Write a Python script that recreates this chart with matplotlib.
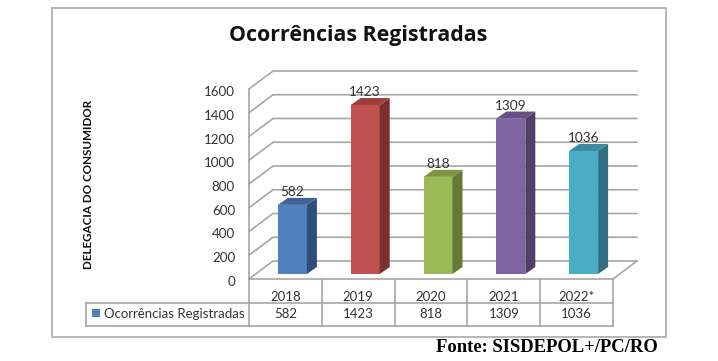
import numpy as np
import matplotlib
matplotlib.use("Agg")
import matplotlib.pyplot as plt
from matplotlib.transforms import ScaledTranslation

W, H = 718, 361

years = ["2018", "2019", "2020", "2021", "2022*"]
values = [582, 1423, 818, 1309, 1036]
front_cols = ["#4f81bd", "#c0504d", "#9bbb59", "#8064a2", "#4bacc6"]
side_cols = ["#2f4f7a", "#7a302e", "#647a36", "#523f6b", "#2f6f80"]
top_cols = ["#3c6496", "#9a3f3c", "#7c9646", "#664f82", "#3b8a9e"]
yticks = [0, 200, 400, 600, 800, 1000, 1200, 1400, 1600]

title = "Ocorrências Registradas"
ylabel = "DELEGACIA DO CONSUMIDOR"
source = "Fonte: SISDEPOL+/PC/RO"

GRID = "#a6a6a6"
TXT = "#333333"

plt.rcParams["font.family"] = ["Lato", "DejaVu Sans"]

fig = plt.figure(figsize=(W / 100, H / 100), dpi=100)


def px_rect(x0, y0, x1, y1):
    # pixel box, y measured from the top of the image
    return [x0 / W, 1 - y1 / H, (x1 - x0) / W, (y1 - y0) / H]


# overlay in image pixels for frame and table
bg = fig.add_axes([0, 0, 1, 1])
bg.set_xlim(0, W)
bg.set_ylim(H, 0)
bg.axis("off")

bg.plot([52, 666, 666, 52, 52], [8, 8, 337, 337, 8], color="#b0b0b0", lw=1.3)

bg.text(358, 36, title, ha="center", va="center", fontsize=15.4, fontweight="bold", color="#111111",
        family=["Open Sans", "DejaVu Sans"])
bg.text(88, 184, ylabel, rotation=90, ha="center", va="center", fontsize=8.4, fontweight="bold", color="#111111")
bg.text(547, 348, source, ha="center", va="center", fontsize=13.4, fontweight="bold", color="black",
        family="Liberation Serif")

# main plot, the axes box is the front plane of the 3d floor
ax = fig.add_axes(px_rect(249, 89, 613, 279))
ax.set_xlim(0, len(years))
ax.set_ylim(0, 1600)
ax.patch.set_alpha(0)
for s in ax.spines.values():
    s.set_visible(False)

xs = np.arange(len(years))
depth_x = 24 / (364 / 5)
depth_y = 18 / (190 / 1600)

# walls
for t in yticks:
    ax.plot([0, depth_x, 5 + depth_x], [t, t + depth_y, t + depth_y], color=GRID, lw=1.2, clip_on=False, zorder=1)
ax.plot([0, 0], [0, 1600], color=GRID, lw=1.2, clip_on=False, zorder=1)
ax.plot([0, 5, 5 + depth_x], [0, 0, depth_y], color=GRID, lw=1.2, clip_on=False, zorder=1)

# bars, pushed back onto the floor
bar_w = 29 / (364 / 5)
off_x = 7 / (364 / 5)
off_y = 5 / (190 / 1600)
cap_x = 10 / (364 / 5)
cap_y = 7 / (190 / 1600)
for i, v in enumerate(values):
    x0 = xs[i] + 0.5 + off_x - bar_w / 2
    x1 = x0 + bar_w
    y0 = off_y
    y1 = v + off_y
    ax.fill([x0, x1, x1, x0], [y0, y0, y1, y1], color=front_cols[i], lw=0, clip_on=False, zorder=3)
    ax.fill([x1, x1 + cap_x, x1 + cap_x, x1], [y0, y0 + cap_y, y1 + cap_y, y1], color=side_cols[i], lw=0, clip_on=False, zorder=3)
    ax.fill([x0, x1, x1 + cap_x, x0 + cap_x], [y1, y1, y1 + cap_y, y1 + cap_y], color=top_cols[i], lw=0, clip_on=False, zorder=3)
    ax.text((x0 + x1) / 2, y1 + cap_y, str(v), ha="center", va="bottom", fontsize=9.8, color=TXT, zorder=4)

ax.set_xticks([])
ax.set_yticks(yticks)
ax.tick_params(axis="y", length=0, pad=10, labelsize=9.6, labelcolor=TXT)
# labels sit a little lower than the tick in the original
shift = ScaledTranslation(0, -2 / 100, fig.dpi_scale_trans)
for lab in ax.get_yticklabels():
    lab.set_transform(lab.get_transform() + shift)

# data table under the axes
tbl_top, tbl_mid, tbl_bot = 279, 303, 326
tbl_left = 86
col_w = 364 / 5
bg.plot([249, 249], [tbl_top, tbl_bot], color=GRID, lw=1.2)
bg.plot([tbl_left, 613], [tbl_mid, tbl_mid], color=GRID, lw=1.2)
bg.plot([tbl_left, 613], [tbl_bot, tbl_bot], color=GRID, lw=1.2)
bg.plot([tbl_left, tbl_left], [tbl_mid, tbl_bot], color=GRID, lw=1.2)
for i in range(len(years)):
    x_r = 249 + col_w * (i + 1)
    bg.plot([x_r, x_r], [tbl_top, tbl_bot], color=GRID, lw=1.2)
    x_c = 249 + col_w * (i + 0.5)
    bg.text(x_c, 297, years[i], ha="center", va="center", fontsize=9.5, color=TXT)
    bg.text(x_c, 314, str(values[i]), ha="center", va="center", fontsize=9.5, color=TXT)
bg.scatter([96], [313], marker="s", s=32, color=front_cols[0], linewidths=0)
bg.text(104, 313.5, title, ha="left", va="center", fontsize=9.5, color=TXT)

fig.savefig("out.png", dpi=100)
